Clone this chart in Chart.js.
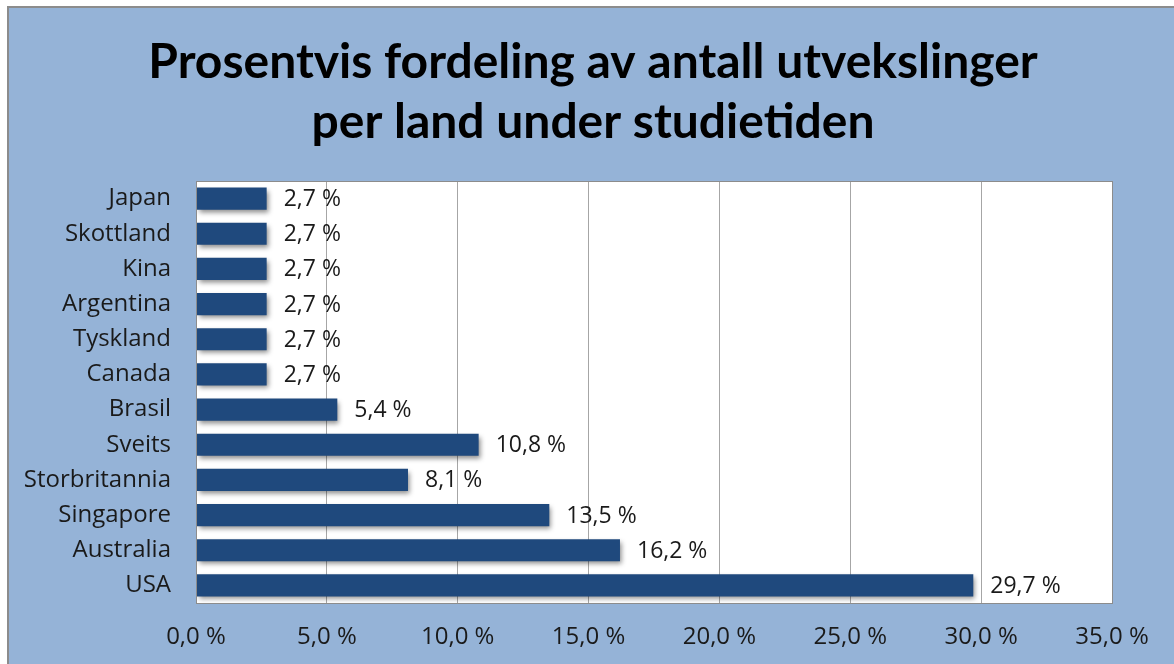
<!DOCTYPE html>
<html>
<head>
<meta charset="utf-8">
<script src="https://cdn.jsdelivr.net/npm/chart.js@4"></script>
<style>
  html, body { margin: 0; padding: 0; background: #fff; }
  #wrap { width: 1174px; height: 664px; }
</style>
</head>
<body>
<div id="wrap"><canvas id="graf"></canvas></div>
<script>
const land = ["Japan", "Skottland", "Kina", "Argentina", "Tyskland", "Canada",
  "Brasil", "Sveits", "Storbritannia", "Singapore", "Australia", "USA"];
const andel = [2.7, 2.7, 2.7, 2.7, 2.7, 2.7, 5.4, 10.8, 8.1, 13.5, 16.2, 29.7];
const tittel = ["Prosentvis fordeling av antall utvekslinger", "per land under studietiden"];
const aksemin = 0, aksemax = 35, steg = 5;

const fmt = (v, d) => v.toFixed(d).replace(".", ",") + " %";
const tekstFont = "'Open Sans', sans-serif";
const tittelFont = "Lato, 'Open Sans', sans-serif";

// bakgrunn, ramme og tittel
const bakgrunn = {
  id: "bakgrunn",
  beforeDraw(chart) {
    const { ctx, width, height, chartArea: a } = chart;
    ctx.save();
    ctx.fillStyle = "#ffffff";
    ctx.fillRect(0, 0, width, height);
    ctx.fillStyle = "#95b3d7";
    ctx.fillRect(8, 7, width - 8, height - 7);
    ctx.strokeStyle = "#8c8c8c";
    ctx.lineWidth = 2;
    ctx.strokeRect(8, 7, width + 10, height + 10);
    ctx.fillStyle = "#ffffff";
    ctx.fillRect(a.left, a.top, a.right - a.left, a.bottom - a.top);

    // tittel
    ctx.fillStyle = "#000000";
    ctx.font = "bold 48px " + tittelFont;
    ctx.textAlign = "center";
    ctx.textBaseline = "middle";
    ctx.fillText(tittel[0], 593, 63);
    ctx.fillText(tittel[1], 593, 123);
    ctx.restore();
  },
  afterDatasetsDraw(chart) {
    const { ctx, chartArea: a } = chart;
    ctx.save();
    ctx.strokeStyle = "#8c8c8c";
    ctx.lineWidth = 1;
    ctx.strokeRect(a.left + 0.5, a.top + 0.5, a.right - a.left, a.bottom - a.top);
    ctx.restore();
  }
};

// skygge under søylene
const skygge = {
  id: "skygge",
  beforeDatasetDraw(chart) {
    const ctx = chart.ctx;
    ctx.save();
    ctx.shadowColor = "rgba(0,0,0,0.45)";
    ctx.shadowBlur = 5;
    ctx.shadowOffsetX = 2;
    ctx.shadowOffsetY = 3;
  },
  afterDatasetDraw(chart) {
    chart.ctx.restore();
  }
};

// verdier ved søylene
const etiketter = {
  id: "etiketter",
  afterDatasetsDraw(chart) {
    const { ctx } = chart;
    const meta = chart.getDatasetMeta(0);
    ctx.save();
    ctx.font = "23px " + tekstFont;
    ctx.fillStyle = "#1a1a1a";
    ctx.textAlign = "left";
    ctx.textBaseline = "middle";
    meta.data.forEach((bar, i) => {
      ctx.fillText(fmt(andel[i], 1), bar.x + 17, bar.y + 1);
    });
    ctx.restore();
  }
};

new Chart(document.getElementById("graf"), {
  type: "bar",
  data: {
    labels: land,
    datasets: [
      {
        data: andel,
        backgroundColor: "#1f497d",
        borderWidth: 0,
        barPercentage: 0.63,
        categoryPercentage: 1,
      },
    ],
  },
  options: {
    indexAxis: "y",
    responsive: true,
    maintainAspectRatio: false,
    animation: false,
    layout: { padding: { left: 8, right: 62, top: 181, bottom: 0 } },
    plugins: {
      legend: { display: false },
      tooltip: { enabled: false },
      title: { display: false },
    },
    scales: {
      x: {
        min: aksemin,
        max: aksemax,
        ticks: {
          stepSize: steg,
          color: "#1a1a1a",
          font: { family: tekstFont, size: 24 },
          padding: 20,
          callback: (v) => fmt(v, 1),
        },
        grid: { color: "#a6a6a6", drawTicks: false },
        border: { display: false },
        afterFit: (s) => { s.height = 61; },
      },
      y: {
        ticks: {
          color: "#1a1a1a",
          font: { family: tekstFont, size: 24 },
          padding: 25,
        },
        grid: { display: false, drawTicks: false },
        border: { display: false },
        afterFit: (s) => { s.width = 188; },
      },
    },
  },
  plugins: [bakgrunn, skygge, etiketter],
});
</script>
</body>
</html>
